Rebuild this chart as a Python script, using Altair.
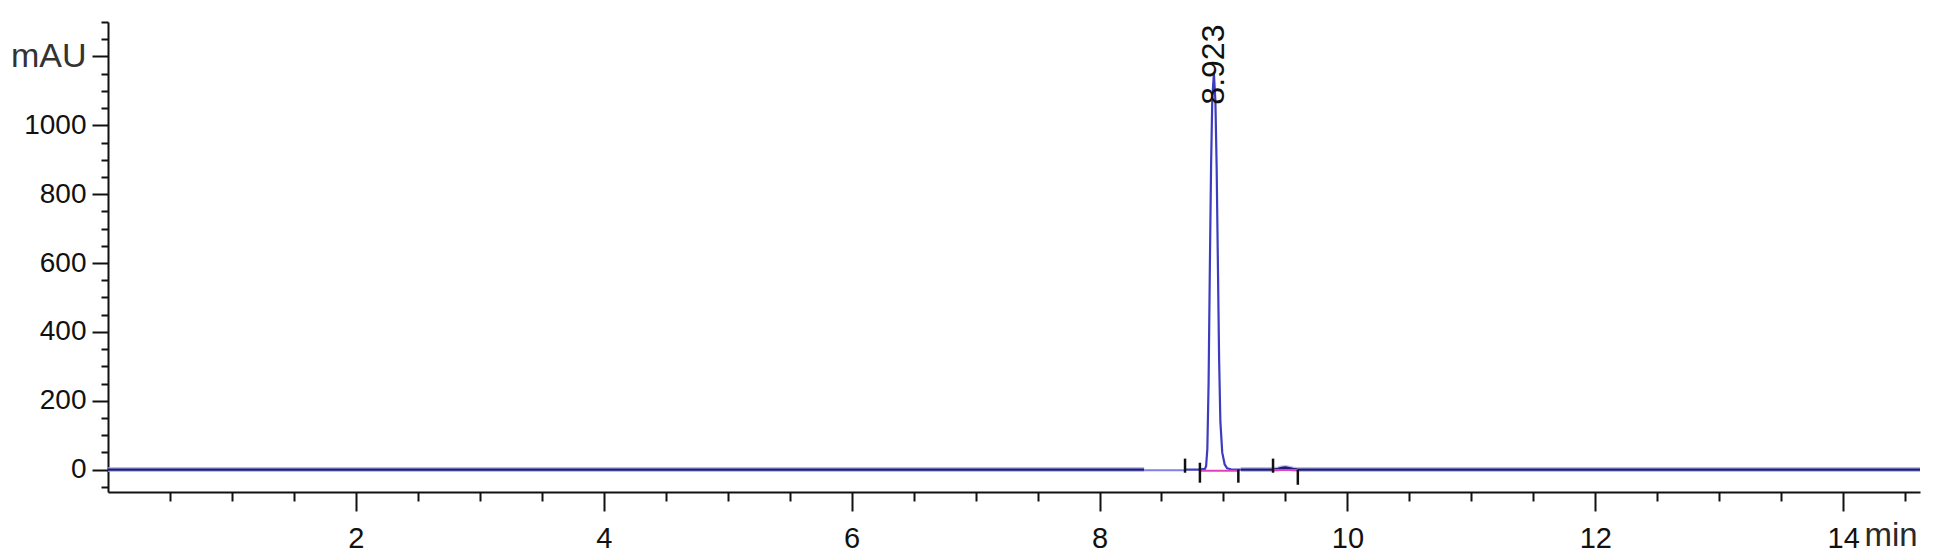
import altair as alt
import pandas as pd

# ---- chromatogram trace (time in min, absorbance in mAU) ----
base1_t = [0.0, 8.36]
base1_v = [0.0, 0.0]

light_t = [8.36, 8.69]
light_v = [-2.0, -2.0]

peak_t = [8.69, 8.80, 8.85, 8.86, 8.87, 8.88, 8.89, 8.90, 8.91, 8.923,
          8.935, 8.945, 8.955, 8.965, 8.975, 8.99, 9.01, 9.03, 9.06, 9.14]
peak_v = [0, 0, 2, 10, 60, 250, 580, 880, 1080, 1150,
          1070, 880, 600, 320, 140, 50, 15, 4, 1, 0]

base2_t = [9.14, 9.40, 9.44, 9.47, 9.50, 9.53, 9.56, 9.60, 14.62]
base2_v = [0, 0, 2, 5, 6, 4, 2, 0, 0]

# integration baselines (magenta)
intbase_seg = ["a", "a", "b", "b"]
intbase_t = [8.81, 9.12, 9.40, 9.60]
intbase_v = [-3, -3, -1, -1]

# integration event marks (black)
event_t = [8.69, 8.81, 9.12, 9.40, 9.60]
event_lo = [-9, -38, 0, -9, -44]
event_hi = [32, 20, -38, 32, 0]

# retention time label
rt_t = [8.923]
rt_v = [1060]
rt_text = ["8.923"]

# axis ticks
x_ticks = [0.5, 1, 1.5, 2, 2.5, 3, 3.5, 4, 4.5, 5, 5.5, 6, 6.5, 7, 7.5, 8, 8.5, 9,
           9.5, 10, 10.5, 11, 11.5, 12, 12.5, 13, 13.5, 14, 14.5]
y_ticks = [-50, 0, 50, 100, 150, 200, 250, 300, 350, 400, 450, 500, 550, 600,
           650, 700, 750, 800, 850, 900, 950, 1000, 1050, 1100, 1150, 1200, 1250, 1300]

rows = []
for seg, kind, ts, vs in [("b1", "base", base1_t, base1_v),
                          ("l", "light", light_t, light_v),
                          ("p", "peak", peak_t, peak_v),
                          ("b2", "base", base2_t, base2_v)]:
    for t, v in zip(ts, vs):
        rows.append({"t": t, "v": v, "seg": seg, "kind": kind})
trace = pd.DataFrame(rows)

ib = pd.DataFrame({"t": intbase_t, "v": intbase_v, "seg": intbase_seg})
ev = pd.DataFrame({"t": event_t, "v": event_lo, "v2": event_hi})
rt = pd.DataFrame({"t": rt_t, "v": rt_v, "txt": rt_text})

FONT = "Liberation Sans"

xaxis = alt.Axis(
    values=x_ticks,
    labelExpr="datum.value % 2 == 0 ? format(datum.value, 'd') : ''",
    tickSize={"condition": {"test": "datum.value % 2 == 0", "value": 19}, "value": 9},
    tickColor="#111111", tickWidth=2,
    domainColor="#111111", domainWidth=2,
    grid=False, labelOverlap=False, labelBound=False, labelFlush=False,
    labelFont=FONT, labelFontSize=29, labelColor="#111111", labelPadding=13,
    title="min", titleFont=FONT, titleFontSize=33, titleFontWeight="normal",
    titleColor="#2a2a2a", titleX=1756, titleY=43, titleAlign="left",
    titleBaseline="middle", titleAnchor="start",
)

major_y = "datum.value >= 0 && datum.value <= 1200 && datum.value % 200 == 0"
yaxis = alt.Axis(
    values=y_ticks,
    labelExpr="datum.value == 1200 ? 'mAU' : (datum.value >= 0 && datum.value <= 1000 && datum.value % 200 == 0 ? format(datum.value, 'd') : '')",
    tickSize={"condition": {"test": major_y, "value": 16}, "value": 7},
    tickColor="#111111", tickWidth=2,
    domainColor="#111111", domainWidth=2,
    grid=False, labelOverlap=False, labelBound=False, labelFlush=False,
    labelFont=FONT,
    labelFontSize={"condition": {"test": "datum.value == 1200", "value": 34}, "value": 28},
    labelColor={"condition": {"test": "datum.value == 1200", "value": "#333333"}, "value": "#111111"},
    labelPadding=6,
    title=None,
)

xs = alt.Scale(domain=[0, 14.62], nice=False, zero=False)
ys = alt.Scale(domain=[-65, 1300], nice=False, zero=False)

X = alt.X("t:Q", scale=xs, axis=xaxis)
Y = alt.Y("v:Q", scale=ys, axis=yaxis)

halo = alt.Chart(trace).transform_filter("datum.kind == 'base'").mark_line(
    color="#a6a6ec", strokeWidth=5, opacity=0.75
).encode(x=X, y=Y, detail="seg:N")

base_line = alt.Chart(trace).transform_filter("datum.kind == 'base'").mark_line(
    color="#1c1c78", strokeWidth=2.4
).encode(x=X, y=Y, detail="seg:N")

light_line = alt.Chart(trace).transform_filter("datum.kind == 'light'").mark_line(
    color="#8080e2", strokeWidth=2
).encode(x=X, y=Y, detail="seg:N")

peak_line = alt.Chart(trace).transform_filter("datum.kind == 'peak'").mark_line(
    color="#3c3cc0", strokeWidth=2.2
).encode(x=X, y=Y, detail="seg:N")

ib_line = alt.Chart(ib).mark_line(color="#e040c0", strokeWidth=2).encode(
    x=X, y=Y, detail="seg:N"
)

events = alt.Chart(ev).mark_rule(color="#111111", strokeWidth=2.5).encode(
    x=X, y=Y, y2="v2:Q"
)

label = alt.Chart(rt).mark_text(
    angle=270, align="left", baseline="middle", font=FONT, fontSize=32, color="#111111"
).encode(x=X, y=Y, text="txt:N")

chart = alt.layer(halo, base_line, light_line, peak_line, ib_line, events, label).properties(
    width=1812, height=470,
    autosize=alt.AutoSizeParams(type="none"),
    padding={"left": 100, "top": 14, "right": 5, "bottom": 60},
    background="white",
).configure_view(stroke=None)

chart.save("out.html", embed_options={"renderer": "svg", "actions": False})
